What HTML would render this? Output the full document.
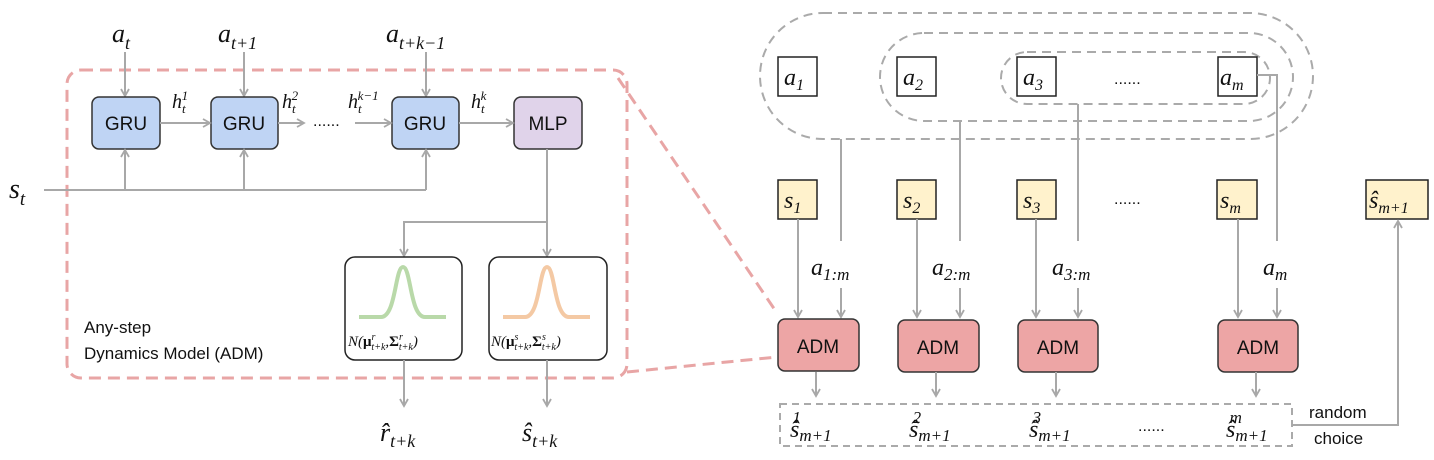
<!DOCTYPE html>
<html><head><meta charset="utf-8"><style>
html,body{margin:0;padding:0;background:#fff}
svg{display:block}
.m{font-family:"Liberation Serif",serif;font-style:italic;fill:#111}
.s{font-family:"Liberation Sans",sans-serif;fill:#111}
.g{stroke:#a8a8a8;stroke-width:2;fill:none}
</style></head><body>
<svg width="1434" height="460" viewBox="0 0 1434 460" xmlns="http://www.w3.org/2000/svg">
<defs>
<marker id="ar" markerWidth="10" markerHeight="10" refX="8" refY="5" orient="auto" markerUnits="userSpaceOnUse">
<path d="M1,1 L8,5 L1,9" fill="none" stroke="#a8a8a8" stroke-width="1.8"/>
</marker>
</defs>

<!-- LEFT: pink dashed -->
<rect x="67" y="70" width="560" height="308" rx="14" fill="none" stroke="#e8a5a5" stroke-width="3" stroke-dasharray="12,7"/>
<line x1="618" y1="78" x2="777" y2="313" stroke="#e8a5a5" stroke-width="3" stroke-dasharray="12,7"/>
<line x1="627" y1="372" x2="777" y2="357" stroke="#e8a5a5" stroke-width="3" stroke-dasharray="12,7"/>

<!-- a labels -->
<text class="m" x="112" y="42" font-size="26">a<tspan font-size="18" dy="7">t</tspan></text>
<text class="m" x="218" y="42" font-size="26">a<tspan font-size="18" dy="7">t+1</tspan></text>
<text class="m" x="386" y="42" font-size="26">a<tspan font-size="18" dy="7">t+k−1</tspan></text>
<line class="g" x1="125" y1="52" x2="125" y2="96" marker-end="url(#ar)"/>
<line class="g" x1="244" y1="52" x2="244" y2="96" marker-end="url(#ar)"/>
<line class="g" x1="426" y1="52" x2="426" y2="96" marker-end="url(#ar)"/>

<!-- GRU / MLP -->
<g stroke="#333" stroke-width="1.5">
<rect x="92" y="97" width="68" height="52" rx="7" fill="#bfd4f4"/>
<rect x="211" y="97" width="67" height="52" rx="7" fill="#bfd4f4"/>
<rect x="392" y="97" width="67" height="52" rx="7" fill="#bfd4f4"/>
<rect x="514" y="97" width="68" height="52" rx="7" fill="#e0d3ea"/>
</g>
<g class="s" font-size="19" text-anchor="middle">
<text x="126" y="130">GRU</text><text x="244" y="130">GRU</text><text x="425" y="130">GRU</text><text x="548" y="130">MLP</text>
</g>
<line class="g" x1="160" y1="123" x2="210" y2="123" marker-end="url(#ar)"/>
<line class="g" x1="278" y1="123" x2="304" y2="123" marker-end="url(#ar)"/>
<text class="s" x="313" y="126" font-size="16">......</text>
<line class="g" x1="355" y1="123" x2="391" y2="123" marker-end="url(#ar)"/>
<line class="g" x1="459" y1="123" x2="513" y2="123" marker-end="url(#ar)"/>
<text class="m" x="172" y="108" font-size="20">h<tspan font-size="13" dy="5">t</tspan><tspan font-size="13" dx="-4" dy="-13">1</tspan></text>
<text class="m" x="282" y="108" font-size="20">h<tspan font-size="13" dy="5">t</tspan><tspan font-size="13" dx="-4" dy="-13">2</tspan></text>
<text class="m" x="348" y="108" font-size="20">h<tspan font-size="13" dy="5">t</tspan><tspan font-size="13" dx="-4" dy="-13">k−1</tspan></text>
<text class="m" x="471" y="108" font-size="20">h<tspan font-size="13" dy="5">t</tspan><tspan font-size="13" dx="-4" dy="-13">k</tspan></text>

<!-- s_t -->
<text class="m" x="9" y="198" font-size="28">s<tspan font-size="19" dy="7">t</tspan></text>
<polyline class="g" points="44,190 426,190"/>
<line class="g" x1="125" y1="190" x2="125" y2="150" marker-end="url(#ar)"/>
<line class="g" x1="244" y1="190" x2="244" y2="150" marker-end="url(#ar)"/>
<line class="g" x1="426" y1="190" x2="426" y2="150" marker-end="url(#ar)"/>

<!-- MLP outputs -->
<line class="g" x1="547" y1="149" x2="547" y2="256" marker-end="url(#ar)"/>
<polyline class="g" points="547,222 404,222 404,256" marker-end="url(#ar)"/>
<rect x="345" y="257" width="117" height="103" rx="10" fill="#fff" stroke="#222" stroke-width="1.5"/>
<rect x="489" y="257" width="118" height="103" rx="10" fill="#fff" stroke="#222" stroke-width="1.5"/>
<path d="M359,317 L381,317 C396,317 395,267 403,267 C411,267 410,317 425,317 L446,317" fill="none" stroke="#b9d9a9" stroke-width="4"/>
<path d="M503,317 L525,317 C540,317 539,267 547,267 C555,267 554,317 569,317 L590,317" fill="none" stroke="#f4c9a4" stroke-width="4"/>
<text class="m" x="348" y="346" font-size="15">N(<tspan font-weight="bold" font-style="normal">μ</tspan><tspan font-size="10" dy="-6">r</tspan><tspan font-size="10" dx="-4" dy="10">t+k</tspan><tspan dy="-4">,</tspan><tspan font-weight="bold" font-style="normal">Σ</tspan><tspan font-size="10" dy="-6">r</tspan><tspan font-size="10" dx="-4" dy="10">t+k</tspan><tspan dy="-4">)</tspan></text>
<text class="m" x="491" y="346" font-size="15">N(<tspan font-weight="bold" font-style="normal">μ</tspan><tspan font-size="10" dy="-6">s</tspan><tspan font-size="10" dx="-4" dy="10">t+k</tspan><tspan dy="-4">,</tspan><tspan font-weight="bold" font-style="normal">Σ</tspan><tspan font-size="10" dy="-6">s</tspan><tspan font-size="10" dx="-4" dy="10">t+k</tspan><tspan dy="-4">)</tspan></text>
<text class="s" x="84" y="333" font-size="17">Any-step</text>
<text class="s" x="84" y="359" font-size="17">Dynamics Model (ADM)</text>
<line class="g" x1="404" y1="360" x2="404" y2="406" marker-end="url(#ar)"/>
<line class="g" x1="547" y1="360" x2="547" y2="406" marker-end="url(#ar)"/>
<text class="m" x="380" y="441" font-size="26">r̂<tspan font-size="18" dy="6">t+k</tspan></text>
<text class="m" x="522" y="441" font-size="26">ŝ<tspan font-size="18" dy="6">t+k</tspan></text>

<!-- RIGHT: action groups -->
<g fill="none" stroke="#aaa" stroke-width="2" stroke-dasharray="9,6">
<rect x="760" y="13" width="553" height="126" rx="63"/>
<rect x="880" y="33" width="413" height="88" rx="44"/>
<rect x="1001" y="52" width="269" height="52" rx="26"/>
</g>
<g fill="#fff" stroke="#222" stroke-width="1.5">
<rect x="778" y="57" width="39" height="39"/><rect x="897" y="57" width="39" height="39"/>
<rect x="1017" y="57" width="39" height="39"/><rect x="1218" y="57" width="39" height="39"/>
</g>
<g class="m" font-size="24">
<text x="784" y="85">a<tspan font-size="16" dy="5">1</tspan></text>
<text x="903" y="85">a<tspan font-size="16" dy="5">2</tspan></text>
<text x="1023" y="85">a<tspan font-size="16" dy="5">3</tspan></text>
<text x="1220" y="85">a<tspan font-size="16" dy="5">m</tspan></text>
</g>
<text class="s" x="1114" y="84" font-size="16">......</text>

<g class="g">
<line x1="841" y1="139" x2="841" y2="241"/>
<line x1="960" y1="121" x2="960" y2="241"/>
<line x1="1078" y1="104" x2="1078" y2="241"/>
<polyline points="1257,75 1277,75 1277,241"/>
</g>

<!-- s boxes -->
<g fill="#fff2cc" stroke="#222" stroke-width="1.5">
<rect x="778" y="180" width="39" height="39"/><rect x="897" y="180" width="39" height="39"/>
<rect x="1017" y="180" width="39" height="39"/><rect x="1217" y="180" width="40" height="39"/>
<rect x="1366" y="180" width="62" height="39"/>
</g>
<g class="m" font-size="24">
<text x="784" y="208">s<tspan font-size="16" dy="5">1</tspan></text>
<text x="903" y="208">s<tspan font-size="16" dy="5">2</tspan></text>
<text x="1023" y="208">s<tspan font-size="16" dy="5">3</tspan></text>
<text x="1220" y="208">s<tspan font-size="16" dy="5">m</tspan></text>
<text x="1369" y="208">ŝ<tspan font-size="16" dy="5">m+1</tspan></text>
</g>
<text class="s" x="1114" y="204" font-size="16">......</text>

<g class="m" font-size="24">
<text x="811" y="275">a<tspan font-size="17" dy="5">1:m</tspan></text>
<text x="932" y="275">a<tspan font-size="17" dy="5">2:m</tspan></text>
<text x="1052" y="275">a<tspan font-size="17" dy="5">3:m</tspan></text>
<text x="1263" y="275">a<tspan font-size="17" dy="5">m</tspan></text>
</g>
<g class="g">
<line x1="798" y1="219" x2="798" y2="317" marker-end="url(#ar)"/>
<line x1="841" y1="288" x2="841" y2="317" marker-end="url(#ar)"/>
<line x1="917" y1="219" x2="917" y2="317" marker-end="url(#ar)"/>
<line x1="960" y1="288" x2="960" y2="317" marker-end="url(#ar)"/>
<line x1="1036" y1="219" x2="1036" y2="317" marker-end="url(#ar)"/>
<line x1="1078" y1="288" x2="1078" y2="317" marker-end="url(#ar)"/>
<line x1="1238" y1="219" x2="1238" y2="317" marker-end="url(#ar)"/>
<line x1="1277" y1="288" x2="1277" y2="317" marker-end="url(#ar)"/>
</g>

<!-- ADM -->
<g fill="#eda5a5" stroke="#333" stroke-width="1.5">
<rect x="778" y="319" width="81" height="52" rx="7"/>
<rect x="898" y="320" width="81" height="52" rx="7"/>
<rect x="1018" y="320" width="80" height="52" rx="7"/>
<rect x="1218" y="320" width="80" height="52" rx="7"/>
</g>
<g class="s" font-size="19" text-anchor="middle">
<text x="818" y="353">ADM</text><text x="938" y="354">ADM</text><text x="1058" y="354">ADM</text><text x="1258" y="354">ADM</text>
</g>
<g class="g">
<line x1="816" y1="372" x2="816" y2="396" marker-end="url(#ar)"/>
<line x1="936" y1="372" x2="936" y2="396" marker-end="url(#ar)"/>
<line x1="1056" y1="372" x2="1056" y2="396" marker-end="url(#ar)"/>
<line x1="1256" y1="372" x2="1256" y2="396" marker-end="url(#ar)"/>
</g>
<rect x="780" y="404" width="512" height="42" fill="none" stroke="#aaa" stroke-width="2" stroke-dasharray="7,5"/>
<g class="m" font-size="24">
<text x="790" y="437">ŝ<tspan font-size="17" dy="4">m+1</tspan><tspan font-size="17" dx="-38" dy="-18">1</tspan></text>
<text x="909" y="437">ŝ<tspan font-size="17" dy="4">m+1</tspan><tspan font-size="17" dx="-38" dy="-18">2</tspan></text>
<text x="1029" y="437">ŝ<tspan font-size="17" dy="4">m+1</tspan><tspan font-size="17" dx="-38" dy="-18">3</tspan></text>
<text x="1226" y="437">ŝ<tspan font-size="17" dy="4">m+1</tspan><tspan font-size="17" dx="-38" dy="-18">m</tspan></text>
</g>
<text class="s" x="1138" y="431" font-size="16">......</text>
<text class="s" x="1309" y="418" font-size="17">random</text>
<text class="s" x="1314" y="444" font-size="17">choice</text>
<polyline class="g" points="1292,425 1398,425 1398,221" marker-end="url(#ar)"/>
</svg>
</body></html>
